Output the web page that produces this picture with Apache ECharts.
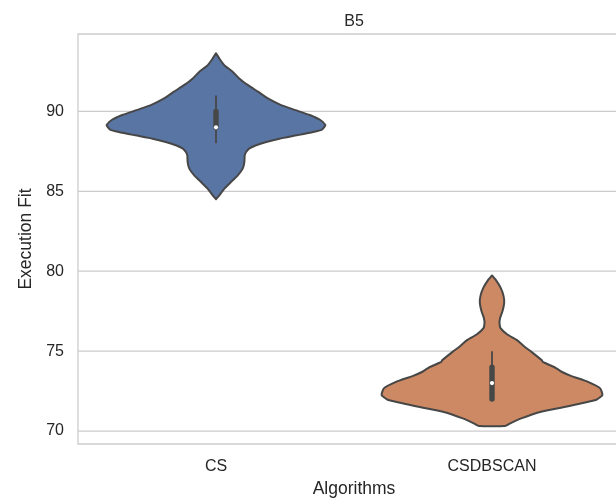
<!DOCTYPE html>
<html><head><meta charset="utf-8">
<script src="https://cdn.jsdelivr.net/npm/echarts@6/dist/echarts.min.js"></script>
<style>html,body{margin:0;padding:0;background:#fff}#c{width:616px;height:502px}</style>
</head><body><div id="c"></div>
<script>
const categories = ['CS', 'CSDBSCAN'];
const yTicks = [70, 75, 80, 85, 90];
// violin outline: value positions and relative half-widths (density, max = 1)
const csKdeY = [93.63, 93.31, 92.89, 92.48, 92.06, 91.64, 91.23, 90.81, 90.39, 90.08, 89.77, 89.46, 89.16, 89.06, 88.86, 88.71, 88.5, 88.29, 88.08, 87.88, 87.67, 87.46, 87.25, 86.83, 86.42, 86.0, 85.58, 85.17, 84.75, 84.5];
const csKdeW = [0, 0.03, 0.075, 0.15, 0.21, 0.29, 0.38, 0.47, 0.59, 0.72, 0.85, 0.945, 0.99, 0.985, 0.96, 0.88, 0.73, 0.575, 0.455, 0.364, 0.30, 0.273, 0.26, 0.257, 0.242, 0.197, 0.136, 0.076, 0.03, 0];
const dbKdeY = [79.73, 79.44, 78.94, 78.44, 78.0, 77.5, 77.06, 76.75, 76.44, 76.06, 75.69, 75.31, 74.94, 74.44, 74.33, 73.94, 73.71, 73.44, 73.08, 72.67, 72.25, 71.94, 71.52, 71.21, 70.79, 70.48, 70.31];
const dbKdeW = [0, 0.036, 0.08, 0.105, 0.11, 0.095, 0.073, 0.068, 0.077, 0.136, 0.227, 0.29, 0.36, 0.45, 0.46, 0.58, 0.63, 0.72, 0.87, 0.98, 1.0, 0.94, 0.665, 0.445, 0.265, 0.165, 0.115];
// inner box statistics
const whiskerLow = [88, 72];
const quartile1 = [89, 72];
const medians = [89, 73];
const quartile3 = [90, 74];
const whiskerHigh = [91, 75];

const fillColors = ['#5975a4', '#cc8963'];
const lineColor = '#474747';
const textColor = '#262626';
const FONT = '"Liberation Sans", Arial, sans-serif';
const kdeY = [csKdeY, dbKdeY];
const kdeW = [csKdeW, dbKdeW];

function renderViolin(params, api) {
  const i = api.value(0);
  const band = api.size([1, 0])[0];
  const cx = api.coord([i, medians[i]])[0];
  const ys = kdeY[i], ws = kdeW[i];
  const right = [], left = [];
  for (let k = 0; k < ys.length; k++) {
    const py = api.coord([i, ys[k]])[1];
    const hw = ws[k] * 0.4 * band;
    right.push([cx + hw, py]);
    left.push([cx - hw, py]);
  }
  const pts = right.concat(left.reverse());
  const yLo = api.coord([i, whiskerLow[i]])[1];
  const yHi = api.coord([i, whiskerHigh[i]])[1];
  const yQ1 = api.coord([i, quartile1[i]])[1];
  const yQ3 = api.coord([i, quartile3[i]])[1];
  const yMed = api.coord([i, medians[i]])[1];
  const bw = 5.4;
  return {
    type: 'group',
    children: [
      { type: 'polygon', shape: { points: pts, smooth: 0.15 },
        style: { fill: fillColors[i], stroke: lineColor, lineWidth: 2, lineJoin: 'round' } },
      { type: 'line', shape: { x1: cx, y1: yHi, x2: cx, y2: yLo },
        style: { stroke: lineColor, lineWidth: 1.8 } },
      { type: 'rect', shape: { x: cx - bw / 2, y: yQ3 - bw / 2, width: bw, height: (yQ1 - yQ3) + bw, r: bw / 2 },
        style: { fill: lineColor } },
      { type: 'circle', shape: { cx: cx, cy: yMed, r: 2.1 },
        style: { fill: '#ffffff' } }
    ]
  };
}

function renderGridLine(params, api) {
  const cs = params.coordSys;
  const y = api.coord([0, api.value(1)])[1];
  return { type: 'line', shape: { x1: cs.x, y1: y, x2: cs.x + cs.width, y2: y },
    style: { stroke: '#cccccc', lineWidth: 1.3 } };
}

const chart = echarts.init(document.getElementById('c'), null, { renderer: 'canvas' });
chart.setOption({
  animation: false,
  backgroundColor: '#ffffff',
  textStyle: { fontFamily: FONT },
  graphic: [{ type: 'text', x: 354, y: 22,
    style: { text: 'B5', fill: textColor, font: '16px ' + FONT, align: 'center', verticalAlign: 'middle' } }],
  grid: { left: 78, top: 34, width: 552, height: 410, containLabel: false, outerBoundsMode: 'none',
    show: true, borderColor: '#cccccc', borderWidth: 1.3, backgroundColor: 'transparent' },
  xAxis: {
    type: 'category', data: categories, boundaryGap: true,
    axisLine: { show: false }, axisTick: { show: false }, splitLine: { show: false },
    axisLabel: { color: textColor, fontSize: 16, margin: 15, fontFamily: FONT },
    name: 'Algorithms', nameLocation: 'middle', nameGap: 36,
    nameTextStyle: { color: textColor, fontSize: 17.5, fontFamily: FONT }
  },
  yAxis: {
    type: 'value', min: 69.19, max: 94.84,
    axisLine: { show: false }, axisTick: { show: false }, splitLine: { show: false },
    axisLabel: { customValues: yTicks, color: textColor, fontSize: 16, margin: 14, fontFamily: FONT },
    name: 'Execution Fit', nameLocation: 'middle', nameGap: 40,
    nameTextStyle: { color: textColor, fontSize: 17.5, fontFamily: FONT }
  },
  series: [
    { type: 'custom', z: 1, silent: true, renderItem: renderGridLine,
      encode: { x: 0, y: 1 }, data: yTicks.map(v => [0, v]) },
    { type: 'custom', z: 2, silent: true, renderItem: renderViolin,
      encode: { x: 0, y: 1 }, data: categories.map((c, i) => [i, medians[i]]) }
  ]
});
</script>
</body></html>
